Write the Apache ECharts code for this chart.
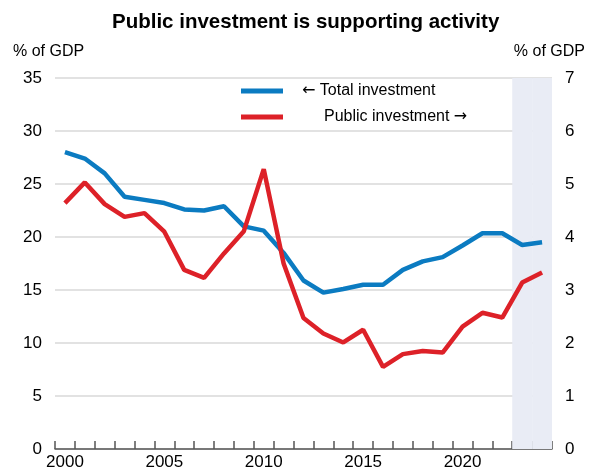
<!DOCTYPE html>
<html>
<head>
<meta charset="utf-8">
<script src="https://cdn.jsdelivr.net/npm/echarts@6/dist/echarts.min.js"></script>
<style>
html,body{margin:0;padding:0;background:#fff;}
#chart{width:592px;height:473px;}
</style>
</head>
<body>
<div id="chart"></div>
<script>
var years = ['2000','2001','2002','2003','2004','2005','2006','2007','2008','2009','2010','2011','2012','2013','2014','2015','2016','2017','2018','2019','2020','2021','2022','2023','2024'];
var totalInvestment = [28.0,27.4,26.0,23.8,23.5,23.2,22.6,22.5,22.9,21.0,20.6,18.5,15.9,14.75,15.1,15.5,15.5,16.9,17.7,18.1,19.2,20.35,20.35,19.25,19.5];
var publicInvestment = [4.64,5.03,4.62,4.38,4.45,4.10,3.38,3.23,3.69,4.11,5.28,3.50,2.47,2.18,2.01,2.25,1.55,1.79,1.85,1.82,2.31,2.57,2.48,3.14,3.33];
var projectionYears = ['2023','2024'];
var title = 'Public investment is supporting activity';
var leftAxisName = '% of GDP';
var rightAxisName = '% of GDP';
var totalName = 'Total investment';
var publicName = 'Public investment';

var shade = years.map(function(y){ return projectionYears.indexOf(y) >= 0 ? 35 : null; });
var font = 'Liberation Sans, Arial, sans-serif';
var arrowFont = 'DejaVu Sans';
var chart = echarts.init(document.getElementById('chart'), null, {renderer:'canvas'});
chart.setOption({
  animation:false,
  textStyle:{fontFamily:font, color:'#000'},
  title:{text:title, left:107, top:7, textStyle:{fontFamily:font, fontSize:20.5, fontWeight:'bold', color:'#000'}},
  legend:{
    orient:'vertical', left:241, top:83, padding:0, itemGap:10,
    itemWidth:42, itemHeight:5, icon:'rect',
    data:[totalName, publicName],
    textStyle:{fontFamily:font, fontSize:16, color:'#000',
      rich:{
        la:{fontFamily:arrowFont, fontSize:16, color:'#000', padding:[0,0,0,14]},
        t:{fontFamily:font, fontSize:16, color:'#000'},
        p:{fontFamily:font, fontSize:16, color:'#000', padding:[0,0,0,36]},
        ra:{fontFamily:arrowFont, fontSize:16, color:'#000'}
      }},
    formatter:function(n){
      return n === publicName ? '{p|' + n + ' }{ra|\u2192}' : '{la|\u2190}{t| ' + n + '}';
    },
    selectedMode:false
  },
  grid:{left:55, right:40, top:78, bottom:24, containLabel:false},
  xAxis:{
    type:'category', data:years, boundaryGap:true,
    axisLine:{show:true, lineStyle:{color:'#555', width:1.5}},
    axisTick:{show:true, inside:true, length:8, interval:0, lineStyle:{color:'#555', width:1.5}},
    axisLabel:{interval:4, fontSize:17, color:'#000', fontFamily:font, margin:5},
    splitLine:{show:false}
  },
  yAxis:[{
    type:'value', min:0, max:35, interval:5, position:'left',
    name:leftAxisName, nameLocation:'end', nameGap:18,
    nameTextStyle:{fontFamily:font, fontSize:16, color:'#000', align:'left', padding:[0,0,0,-42]},
    axisLine:{show:false}, axisTick:{show:false},
    axisLabel:{fontSize:17, color:'#000', fontFamily:font, margin:13},
    splitLine:{show:true, lineStyle:{color:'#d9d9d9', width:1.5}}
  },{
    type:'value', min:0, max:7, interval:1, position:'right',
    name:rightAxisName, nameLocation:'end', nameGap:18,
    nameTextStyle:{fontFamily:font, fontSize:16, color:'#000', align:'right', padding:[0,-33,0,0]},
    axisLine:{show:false}, axisTick:{show:false},
    axisLabel:{fontSize:17, color:'#000', fontFamily:font, margin:13},
    splitLine:{show:false}
  }],
  series:[{
    type:'bar', name:'projection', yAxisIndex:0, data:shade, barCategoryGap:'0%', barWidth:'100%',
    itemStyle:{color:'#e9ecf5'}, silent:true, z:1
  },{
    type:'line', name:totalName, yAxisIndex:0, data:totalInvestment, symbol:'none', smooth:false,
    lineStyle:{color:'#0b7bc1', width:4.5}, itemStyle:{color:'#0b7bc1'}, z:3
  },{
    type:'line', name:publicName, yAxisIndex:1, data:publicInvestment, symbol:'none', smooth:false,
    lineStyle:{color:'#dd2128', width:4.5}, itemStyle:{color:'#dd2128'}, z:4
  }]
});
</script>
</body>
</html>
